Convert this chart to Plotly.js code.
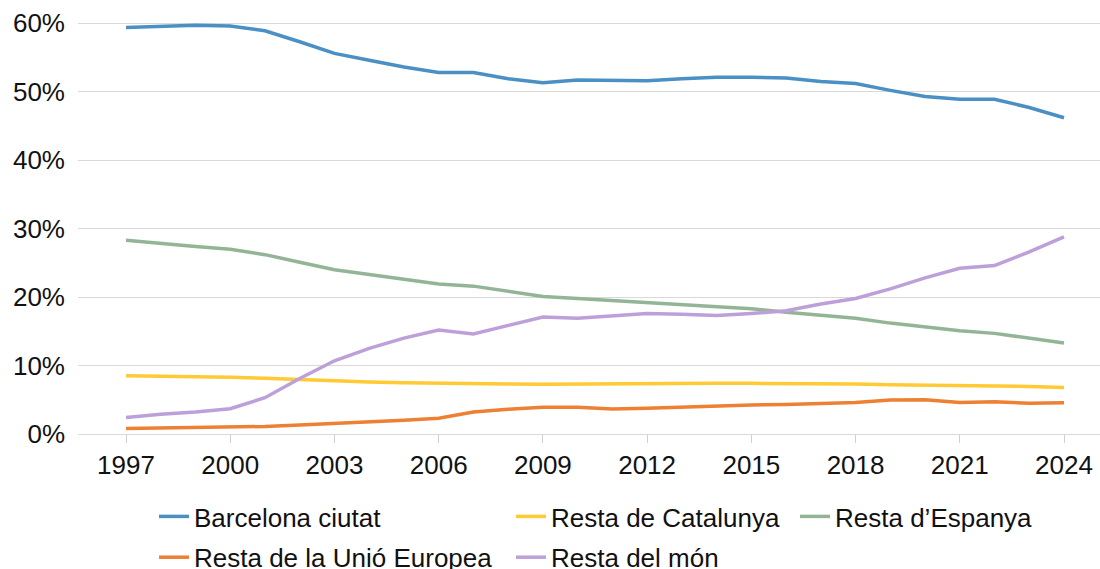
<!DOCTYPE html>
<html>
<head>
<meta charset="utf-8">
<script src="https://cdn.plot.ly/plotly-3.0.1.min.js"></script>
<style>html,body{margin:0;padding:0;background:#fff;}#chart{width:1100px;height:569px;}</style>
</head>
<body>
<div id="chart"></div>
<script>
const years = [1997,1998,1999,2000,2001,2002,2003,2004,2005,2006,2007,2008,2009,2010,2011,2012,2013,2014,2015,2016,2017,2018,2019,2020,2021,2022,2023,2024];
const tickYears = [1997,2000,2003,2006,2009,2012,2015,2018,2021,2024];
const seriesNames = ["Barcelona ciutat","Resta de Catalunya","Resta d\u2019Espanya","Resta de la Uni\u00f3 Europea","Resta del m\u00f3n"];
const barcelona = [59.4,59.6,59.7,59.6,58.9,57.3,55.6,54.6,53.6,52.8,52.8,51.9,51.3,51.7,51.7,51.6,51.9,52.1,52.1,52.0,51.5,51.2,50.2,49.3,48.9,48.9,47.7,46.2];
const catalunya = [8.5,8.45,8.4,8.3,8.15,7.95,7.75,7.6,7.5,7.4,7.4,7.3,7.25,7.3,7.35,7.35,7.35,7.4,7.4,7.4,7.35,7.3,7.2,7.1,7.0,7.0,6.95,6.8];
const espanya = [28.3,27.8,27.4,27.0,26.2,25.1,24.0,23.3,22.6,21.9,21.6,20.8,20.1,19.8,19.5,19.2,18.8,18.6,18.3,17.8,17.3,16.9,16.2,15.6,15.1,14.7,14.0,13.3];
const ue = [0.8,0.85,0.9,1.0,1.1,1.3,1.5,1.7,2.0,2.3,3.2,3.6,3.9,3.9,3.65,3.75,3.95,4.15,4.25,4.3,4.5,4.6,4.95,5.0,4.6,4.7,4.5,4.55];
const mon = [2.4,2.9,3.2,3.7,5.3,8.1,10.7,12.5,14.0,15.2,14.6,15.9,17.1,16.9,17.3,17.6,17.5,17.3,17.6,18.0,19.0,19.8,21.2,22.8,24.2,24.6,26.6,28.8];

const colors = ["#4a90c4","#ffca33","#93b596","#ee8033","#bda0d9"];
const values = [barcelona, catalunya, espanya, ue, mon];
const legendOf = ["legend","legend2","legend3","legend","legend2"];

const traces = values.map((v,i)=>({
  type:'scatter', mode:'lines', x: years, y: v, name: seriesNames[i],
  line:{color:colors[i], width:3.5},
  legend: legendOf[i], legendgroup: 'g'+i,
  hoverinfo:'skip'
}));

const fontFam = '"Liberation Sans", Arial, sans-serif';
const legBase = {
  orientation:'v', xref:'container', yref:'container', xanchor:'left', yanchor:'top',
  y: 1 - 493/569, traceorder:'grouped', tracegroupgap:4,
  font:{family:fontFam, size:26, color:'#111'}, bgcolor:'rgba(0,0,0,0)', borderwidth:0
};

const layout = {
  width:1100, height:569,
  margin:{l:78, r:0, t:10, b:135, autoexpand:false},
  paper_bgcolor:'#fff', plot_bgcolor:'#fff',
  font:{family:fontFam, size:26, color:'#111'},
  showlegend:true,
  xaxis:{
    range:[1995.618, 2025.036], tickmode:'array', tickvals:tickYears, ticktext:tickYears.map(String),
    showgrid:false, zeroline:false, showline:true, linecolor:'#d9d9d9', linewidth:1,
    ticks:'outside', ticklen:8, tickcolor:'#d0d0d0', tickwidth:1,
    tickfont:{family:fontFam, size:26, color:'#111'}
  },
  yaxis:{
    range:[0, 61.94], dtick:10, tick0:0, ticksuffix:'%',
    showgrid:true, gridcolor:'#d9d9d9', gridwidth:1, zeroline:false,
    ticks:'', ticklabelstandoff:12,
    tickfont:{family:fontFam, size:26, color:'#111'}
  },
  legend: Object.assign({}, legBase, {x:154/1100}),
  legend2: Object.assign({}, legBase, {x:511/1100}),
  legend3: Object.assign({}, legBase, {x:795/1100})
};

Plotly.newPlot('chart', traces, layout, {staticPlot:true, displayModeBar:false});
</script>
</body>
</html>
